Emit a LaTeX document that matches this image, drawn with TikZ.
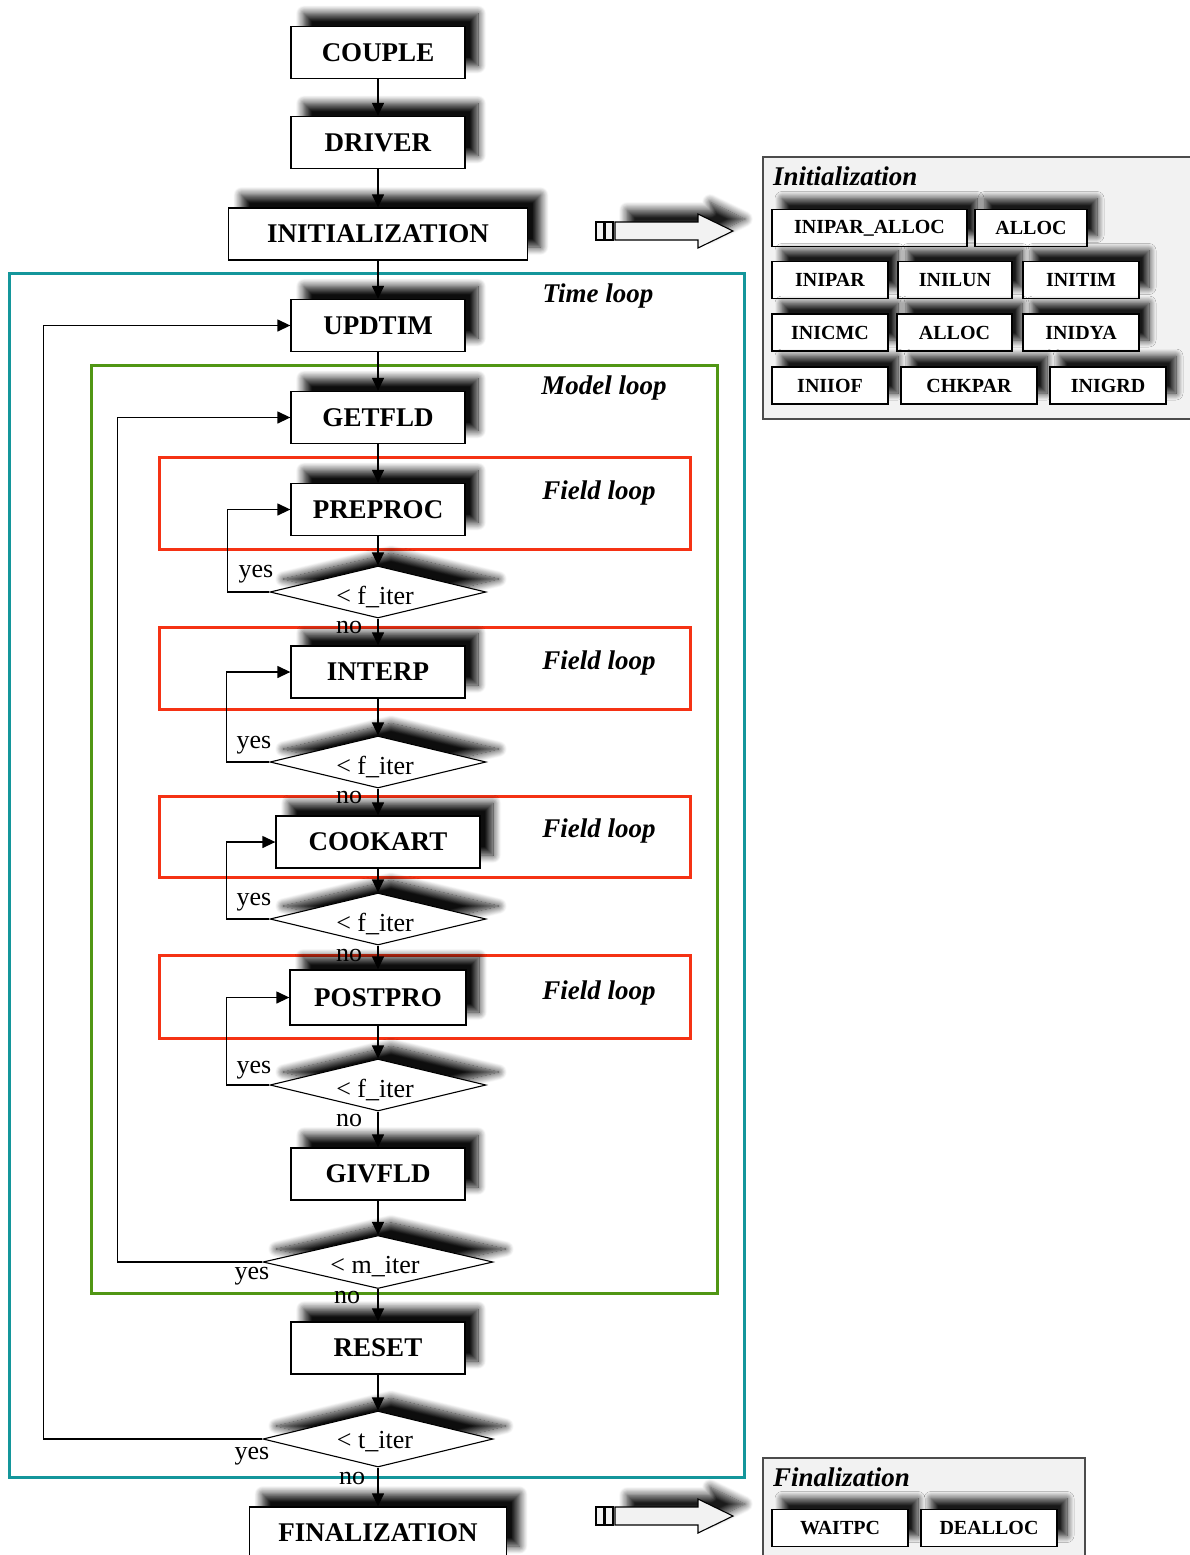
\documentclass[tikz,border=0pt]{standalone}
\usepackage{fontspec}
\setmainfont{Liberation Serif}
\usetikzlibrary{shapes.geometric,arrows.meta,shadows.blur}
\definecolor{tealframe}{RGB}{20,150,155}
\definecolor{greenframe}{RGB}{80,150,20}
\definecolor{redframe}{RGB}{245,50,20}
\definecolor{panelgray}{RGB}{242,242,242}
\begin{document}
\begin{tikzpicture}[x=1pt,y=-1pt,
  sh/.style={blur shadow={shadow xshift=13pt, shadow yshift=13pt, shadow blur radius=8pt, shadow blur steps=12, shadow opacity=95}},
  mainbox/.style={draw, line width=1.3pt, fill=white, minimum height=52pt, minimum width=174pt, inner sep=0pt, font=\fontsize{27}{30}\selectfont\bfseries, sh},
  dec/.style={diamond, draw, line width=1.1pt, fill=white, aspect=4, inner sep=0pt, minimum width=216pt, minimum height=52pt, sh},
  dtext/.style={font=\fontsize{26}{28}\selectfont, inner sep=0pt, yshift=-5pt, xshift=-3pt},
  lbl/.style={font=\fontsize{26}{28}\selectfont, inner sep=0pt},
  looplbl/.style={font=\fontsize{27}{30}\selectfont\bfseries\itshape, inner sep=0pt},
  conn/.style={line width=1.3pt, -{Triangle[length=13pt,width=12pt]}},
  frame/.style={line width=3pt},
  small/.style={draw, line width=1.3pt, fill=white, minimum height=37pt, inner sep=0pt, font=\fontsize{20}{22}\selectfont\bfseries, blur shadow={shadow xshift=10pt, shadow yshift=11pt, shadow blur radius=7pt, shadow blur steps=10, shadow opacity=90}},
  panel/.style={draw=gray!60!black, line width=1.2pt, fill=panelgray},
  sidearrow/.style={draw, line width=1.1pt, fill=panelgray}
]
\useasboundingbox (0,0) rectangle (1190,1555);

% frames
\draw[frame, tealframe] (9,273) rectangle (744,1477);
\draw[frame, greenframe] (91,365) rectangle (717,1293);
\draw[frame, redframe] (159,457) rectangle (690,549);
\draw[frame, redframe] (159,627) rectangle (690,709);
\draw[frame, redframe] (159,796) rectangle (690,877);
\draw[frame, redframe] (159,955) rectangle (690,1038);

% loop labels
\node[looplbl] (tl) at (598,296) {Time loop};
\node[looplbl] (ml) at (604,388) {Model loop};
\node[looplbl] (fl1) at (599,493) {Field loop};
\node[looplbl] (fl2) at (599,663) {Field loop};
\node[looplbl] (fl3) at (599,831) {Field loop};
\node[looplbl] (fl4) at (599,993) {Field loop};

% main column
\node[mainbox] (couple) at (378,52.5) {COUPLE};
\node[mainbox] (driver) at (378,142.5) {DRIVER};
\node[mainbox, minimum width=299pt] (init) at (378,234) {INITIALIZATION};
\node[mainbox] (updtim) at (378,325.5) {UPDTIM};
\node[mainbox] (getfld) at (378,417.5) {GETFLD};
\node[mainbox] (preproc) at (378,509.5) {PREPROC};
\node[dec, label={[dtext]center:< f\_iter}] (d1) at (378,592) {};
\node[mainbox] (interp) at (378,672) {INTERP};
\node[dec, label={[dtext]center:< f\_iter}] (d2) at (378,762) {};
\node[mainbox, minimum width=204pt] (cookart) at (378,842) {COOKART};
\node[dec, label={[dtext]center:< f\_iter}] (d3) at (378,919) {};
\node[mainbox, minimum width=176pt, minimum height=55pt] (postpro) at (378,997.5) {POSTPRO};
\node[dec, label={[dtext]center:< f\_iter}] (d4) at (378,1085) {};
\node[mainbox] (givfld) at (378,1174) {GIVFLD};
\node[dec, minimum width=230pt, minimum height=53pt, label={[dtext]center:< m\_iter}] (miter) at (378,1262) {};
\node[mainbox] (reset) at (378,1348) {RESET};
\node[dec, minimum width=230pt, minimum height=56pt, label={[dtext, yshift=2pt]center:< t\_iter}] (titer) at (378,1439) {};
\node[mainbox, minimum width=257pt] (final) at (378,1533) {FINALIZATION};

% straight connectors
\draw[conn] (couple) -- (driver);
\draw[conn] (driver) -- (init);
\draw[conn] (init) -- (updtim);
\draw[conn] (updtim) -- (getfld);
\draw[conn] (getfld) -- (preproc);
\draw[conn] (preproc) -- (d1);
\draw[conn] (d1) -- (interp);
\draw[conn] (interp) -- (d2);
\draw[conn] (d2) -- (cookart);
\draw[conn] (cookart) -- (d3);
\draw[conn] (d3) -- (postpro);
\draw[conn] (postpro) -- (d4);
\draw[conn] (d4) -- (givfld);
\draw[conn] (givfld) -- (miter);
\draw[conn] (miter) -- (reset);
\draw[conn] (reset) -- (titer);
\draw[conn] (titer) -- (final);

% loop-back connectors
\draw[conn] (d1.west) -- ++(-42,0) |- (preproc.west);
\draw[conn] (d2.west) -- ++(-43,0) |- (interp.west);
\draw[conn] (d3.west) -- ++(-43,0) |- (cookart.west);
\draw[conn] (d4.west) -- ++(-43,0) |- (postpro.west);
\draw[conn] (miter.west) -- ++(-145,0) |- (getfld.west);
\draw[conn] (titer.west) -- ++(-219,0) |- (updtim.west);

% yes / no labels
\node[lbl] (y1) at (256,574) {yes};
\node[lbl] (y2) at (254,745) {yes};
\node[lbl] (y3) at (254,902) {yes};
\node[lbl] (y4) at (254,1070) {yes};
\node[lbl] (y5) at (252,1276) {yes};
\node[lbl] (y6) at (252,1456) {yes};
\node[lbl] (n1) at (349,627) {no};
\node[lbl] (n2) at (349,797) {no};
\node[lbl] (n3) at (349,955) {no};
\node[lbl] (n4) at (349,1120) {no};
\node[lbl] (n5) at (347,1297) {no};
\node[lbl] (n6) at (352,1478) {no};

% side arrows
\foreach \yc in {231,1516}{
  \draw[line width=1.1pt, fill=panelgray] (596,\yc-9) rectangle (604,\yc+9);
  \draw[line width=1.1pt, fill=panelgray] (605,\yc-9) rectangle (613,\yc+9);
  \path[blur shadow={shadow xshift=12pt, shadow yshift=12pt, shadow blur radius=8pt, shadow blur steps=10, shadow opacity=90}, sidearrow]
    (615,\yc-9) -- (698,\yc-9) -- (698,\yc-17) -- (733,\yc) -- (698,\yc+17) -- (698,\yc+9) -- (615,\yc+9) -- cycle;
}

% Initialization panel
\draw[panel] (763,157) rectangle (1194,419);
\node[looplbl, anchor=west] (ititle) at (773,176) {Initialization};
\node[small, minimum width=195pt] (b11) at (869.5,228) {INIPAR\_ALLOC};
\node[small, minimum width=112pt] (b12) at (1031,228) {ALLOC};
\node[small, minimum width=116pt] (b21) at (830,280) {INIPAR};
\node[small, minimum width=114pt] (b22) at (955,280) {INILUN};
\node[small, minimum width=116pt] (b23) at (1081,280) {INITIM};
\node[small, minimum width=116pt] (b31) at (830,332.5) {INICMC};
\node[small, minimum width=115pt] (b32) at (954.5,332.5) {ALLOC};
\node[small, minimum width=116pt] (b33) at (1081,332.5) {INIDYA};
\node[small, minimum width=116pt] (b41) at (830,385.5) {INIIOF};
\node[small, minimum width=136pt] (b42) at (969,385.5) {CHKPAR};
\node[small, minimum width=116pt] (b43) at (1108,385.5) {INIGRD};

% Finalization panel
\draw[panel] (763,1458) rectangle (1085,1562);
\node[looplbl, anchor=west] (ftitle) at (773,1477) {Finalization};
\node[small, minimum width=136pt] (f1) at (840,1528) {WAITPC};
\node[small, minimum width=136pt] (f2) at (989,1528) {DEALLOC};
\end{tikzpicture}
\end{document}
